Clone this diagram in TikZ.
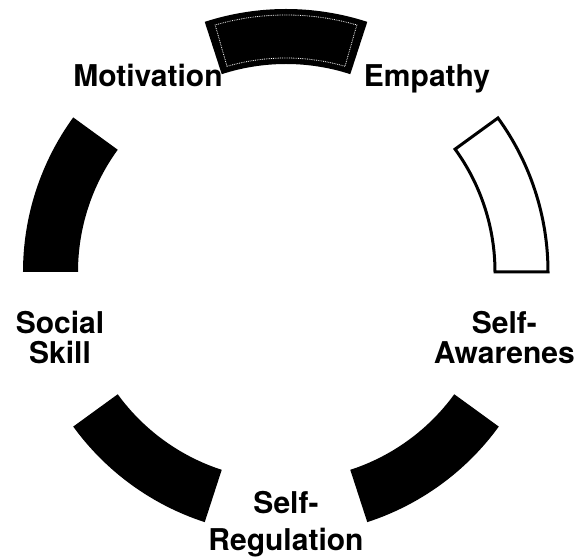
\documentclass[tikz,border=0pt]{standalone}
\usepackage{fontspec}
\setmainfont{TeX Gyre Heros}
\usepackage{tikz}

\begin{document}
\begin{tikzpicture}[
  x=1pt,
  y=1pt,
  every node/.style={font=\fontsize{30}{29}\selectfont\bfseries, inner sep=0pt},
  label/.style={align=center, anchor=base},
  band/.style={fill=black},
  openband/.style={draw=black, line width=3pt, fill=white}
]
\useasboundingbox (-286,-287) rectangle (289,272);

% ring segments, 36 degrees each
\fill[band] (72:208pt) arc[start angle=72, end angle=108, radius=208pt]
  -- (108:263pt) arc[start angle=108, end angle=72, radius=263pt] -- cycle;
\draw[white, densely dotted, line width=0.8pt] (74:214pt) arc[start angle=74, end angle=106, radius=214pt]
  -- (106:257pt) arc[start angle=106, end angle=74, radius=257pt] -- cycle;
\draw[openband] (0:209pt) arc[start angle=0, end angle=36, radius=209pt]
  -- (36:262pt) arc[start angle=36, end angle=0, radius=262pt] -- cycle;
\fill[band] (144:208pt) arc[start angle=144, end angle=180, radius=208pt]
  -- (180:263pt) arc[start angle=180, end angle=144, radius=263pt] -- cycle;
\fill[band] (216:208pt) arc[start angle=216, end angle=252, radius=208pt]
  -- (252:263pt) arc[start angle=252, end angle=216, radius=263pt] -- cycle;
\fill[band] (288:208pt) arc[start angle=288, end angle=324, radius=208pt]
  -- (324:263pt) arc[start angle=324, end angle=288, radius=263pt] -- cycle;

% labels (base = last line)
\node[label] (motivation) at (-138,185) {Motivation};
\node[label] (empathy) at (141,185) {Empathy};
\node[label] (social) at (-226,-91) {Social\\Skill};
\node[label, anchor=base east] (aware) at (289,-91) {Self-\\Awarenes};
\node[label] (regulation) at (0,-278) {Self-\\[8pt]Regulation};
\end{tikzpicture}
\end{document}
